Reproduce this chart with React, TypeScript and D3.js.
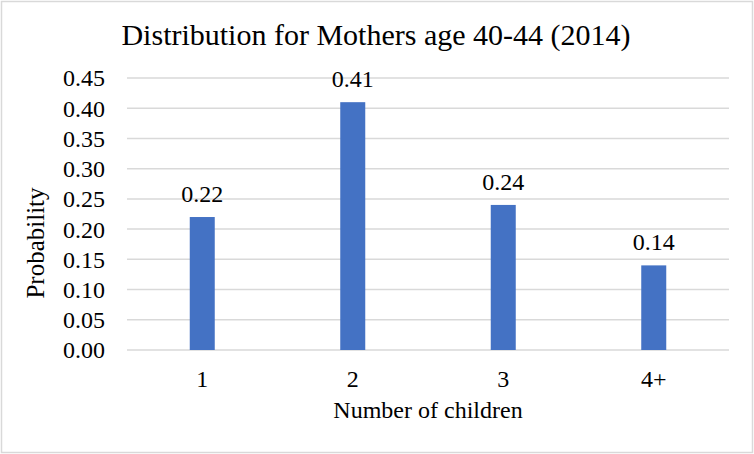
import React from 'react'
import * as d3 from 'd3'

const categories = ['1', '2', '3', '4+']
const probabilities = [0.22, 0.41, 0.24, 0.14]
const yTicks = [0, 0.05, 0.1, 0.15, 0.2, 0.25, 0.3, 0.35, 0.4, 0.45]

const W = 754
const H = 454
const margin = { left: 127, right: 25, top: 78, bottom: 104 }
const font = '"Liberation Serif", "Times New Roman", serif'

export default function App() {
    const plotW = W - margin.left - margin.right
    const plotH = H - margin.top - margin.bottom

    const x = d3.scaleBand()
        .domain(categories)
        .range([0, plotW])
        .padding(0)

    const y = d3.scaleLinear()
        .domain([0, 0.45])
        .range([plotH, 0])

    const barW = 25
    const fmt = d3.format('.2f')

    return (
        <svg width={W} height={H} style={{ position: 'absolute', left: 0, top: 0, fontFamily: font }}>
            <rect x={0} y={0} width={W} height={H} fill="#fff" />
            <rect x={1.5} y={1.5} width={W - 3} height={H - 3} fill="none" stroke="#d9d9d9" strokeWidth={1.5} />

            {/* title */}
            <text x={376} y={45} textAnchor="middle" fontSize={30} fill="#000">
                Distribution for Mothers age 40-44 (2014)
            </text>

            <g transform={`translate(${margin.left},${margin.top})`}>
                {/* grid */}
                {yTicks.map(t => (
                    <line key={t} x1={0} x2={plotW} y1={y(t)} y2={y(t)} stroke="#d9d9d9" strokeWidth={1.5} />
                ))}
                {/* y tick labels */}
                {yTicks.map(t => (
                    <text key={'l' + t} x={-22} y={y(t)} dy="0.35em" textAnchor="end" fontSize={24} fill="#000">
                        {fmt(t)}
                    </text>
                ))}
                {/* bars */}
                {categories.map((c, i) => (
                    <g key={c}>
                        <rect
                            x={x(c)! + x.bandwidth() / 2 - barW / 2}
                            y={y(probabilities[i])}
                            width={barW}
                            height={plotH - y(probabilities[i])}
                            fill="#4472c4"
                        />
                        <text x={x(c)! + x.bandwidth() / 2} y={y(probabilities[i]) - 15} textAnchor="middle" fontSize={24} fill="#000">
                            {fmt(probabilities[i])}
                        </text>
                        <text x={x(c)! + x.bandwidth() / 2} y={plotH + 37} textAnchor="middle" fontSize={24} fill="#000">
                            {c}
                        </text>
                    </g>
                ))}
            </g>

            {/* axis titles */}
            <text x={margin.left + plotW / 2} y={418} textAnchor="middle" fontSize={24} fill="#000">
                Number of children
            </text>
            <text transform="translate(44,243) rotate(-90)" textAnchor="middle" fontSize={25} fill="#000">
                Probability
            </text>
        </svg>
    )
}
